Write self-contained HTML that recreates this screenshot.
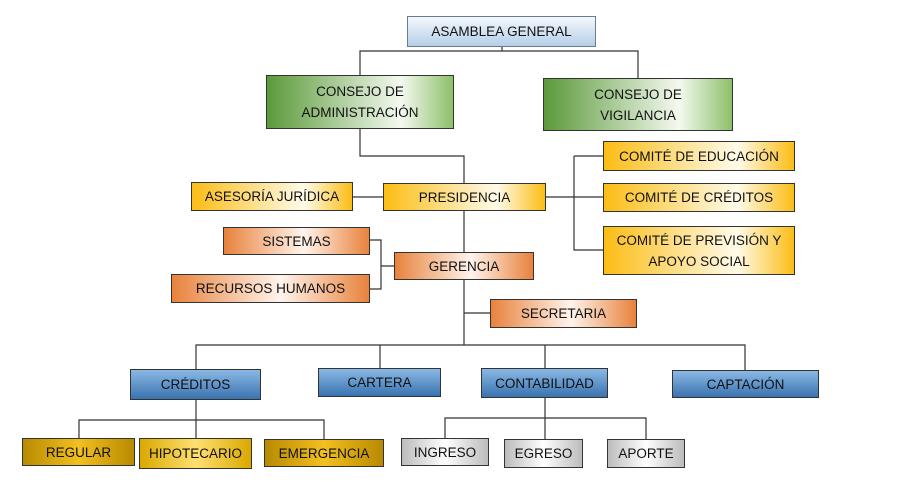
<!DOCTYPE html>
<html><head><meta charset="utf-8"><style>
body{margin:0;width:920px;height:491px;background:#fff;position:relative;overflow:hidden;font-family:"Liberation Sans",sans-serif}
.b{position:absolute;box-sizing:border-box;border:1px solid #333;display:flex;align-items:center;justify-content:center;text-align:center;font-size:13.5px;color:#111;line-height:21px}
.ag{background:linear-gradient(#f4f8fc,#b5cfe8);border-color:#6a7c90}
.g{background:linear-gradient(90deg,#5b9a3a,#f4f9f0 72%,#8cc06a)}
.y{background:linear-gradient(90deg,#fbbd15,#fffbea 70%,#fbbd15)}
.o{background:linear-gradient(90deg,#e8823c,#fff4ec 55%,#e8823c)}
.bl{background:linear-gradient(#8ab8e4,#3a73b0);}
.d{background:linear-gradient(90deg,#b88a00,#f2c020 50%,#b88a00)}
.h{background:linear-gradient(90deg,#d9a800,#ffe070 50%,#d9a800)}
.gr{background:linear-gradient(90deg,#bcbcbc,#fff 50%,#bcbcbc)}
svg{position:absolute;left:0;top:0}
</style></head><body>
<svg width="920" height="491" fill="none" stroke="#333" stroke-width="1.2">
<path d="M502 47V51M360 75V51H638V78"/>
<path d="M360 129V156H464V183M353 197H383M546 197H603M574 156H603M574 156V250H603M464 211V345M370 240H381V289H370M381 266H394M464 313H490M196 369V345H745V370M380 345V368M545 345V368M196 400V420M79 438V420H324V439M196 420V438M545 398V418M445 438V418H646V439M545 418V439"/>
</svg>
<div class="b ag" style="left:407px;top:16px;width:189px;height:31px">ASAMBLEA GENERAL</div>
<div class="b g" style="left:266px;top:75px;width:188px;height:54px">CONSEJO DE<br>ADMINISTRACIÓN</div>
<div class="b g" style="left:543px;top:78px;width:190px;height:53px">CONSEJO DE<br>VIGILANCIA</div>
<div class="b y" style="left:603px;top:141px;width:192px;height:30px">COMITÉ DE EDUCACIÓN</div>
<div class="b y" style="left:603px;top:183px;width:192px;height:29px">COMITÉ DE CRÉDITOS</div>
<div class="b y" style="left:603px;top:226px;width:192px;height:49px">COMITÉ DE PREVISIÓN Y<br>APOYO SOCIAL</div>
<div class="b y" style="left:191px;top:182px;width:162px;height:29px">ASESORÍA JURÍDICA</div>
<div class="b y" style="left:383px;top:183px;width:163px;height:28px">PRESIDENCIA</div>
<div class="b o" style="left:223px;top:227px;width:147px;height:28px">SISTEMAS</div>
<div class="b o" style="left:171px;top:274px;width:199px;height:29px">RECURSOS HUMANOS</div>
<div class="b o" style="left:394px;top:252px;width:140px;height:28px">GERENCIA</div>
<div class="b o" style="left:490px;top:299px;width:147px;height:29px">SECRETARIA</div>
<div class="b bl" style="left:130px;top:369px;width:131px;height:31px">CRÉDITOS</div>
<div class="b bl" style="left:318px;top:368px;width:123px;height:29px">CARTERA</div>
<div class="b bl" style="left:481px;top:368px;width:127px;height:30px">CONTABILIDAD</div>
<div class="b bl" style="left:672px;top:370px;width:147px;height:28px">CAPTACIÓN</div>
<div class="b d" style="left:22px;top:438px;width:113px;height:28px">REGULAR</div>
<div class="b h" style="left:139px;top:438px;width:113px;height:31px">HIPOTECARIO</div>
<div class="b d" style="left:264px;top:439px;width:120px;height:28px">EMERGENCIA</div>
<div class="b gr" style="left:401px;top:438px;width:88px;height:28px">INGRESO</div>
<div class="b gr" style="left:504px;top:439px;width:79px;height:29px">EGRESO</div>
<div class="b gr" style="left:607px;top:439px;width:78px;height:29px">APORTE</div>
</body></html>
